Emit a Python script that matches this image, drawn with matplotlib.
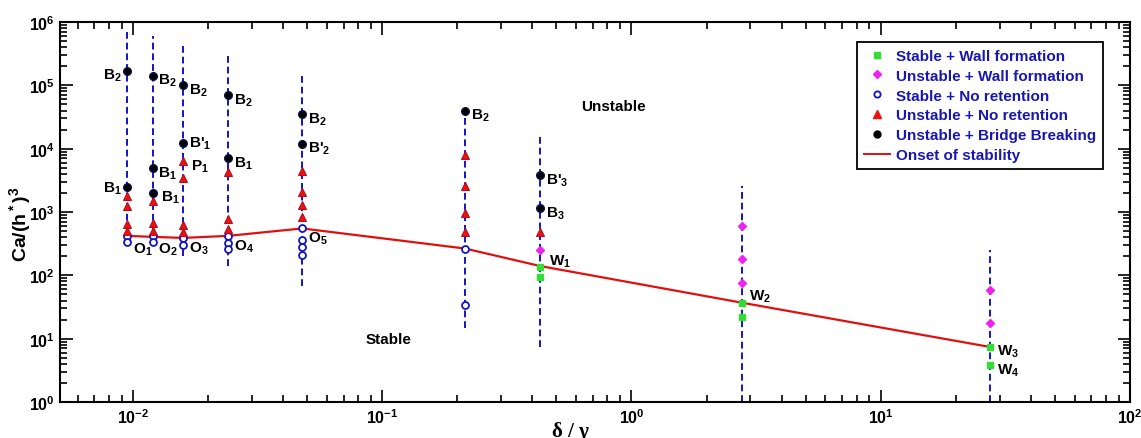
import matplotlib
matplotlib.use("Agg")
import matplotlib.pyplot as plt
from matplotlib.lines import Line2D

plt.rcParams['font.family'] = ['Liberation Sans', 'DejaVu Sans']
plt.rcParams['font.weight'] = 'bold'
plt.rcParams['mathtext.fontset'] = 'custom'
plt.rcParams['mathtext.rm'] = 'Liberation Sans:bold'
plt.rcParams['mathtext.it'] = 'Liberation Sans:bold'
plt.rcParams['mathtext.bf'] = 'Liberation Sans:bold'

# Data: column positions (delta / gamma)
cols = [0.0095, 0.012, 0.0159, 0.0241, 0.0478, 0.215, 0.431, 2.77, 27.4]

# vertical dashed guides (top, bottom) for each column
guide_top = [7.2e5, 6.0e5, 4.3e5, 2.9e5, 1.4e5, 4.0e4, 1.6e4, 2.6e3, 250]
guide_bot = [340, 330, 200, 140, 68, 15, 7.4, 1.0, 1.0]

# Unstable + Bridge Breaking
bridge_x = [0.0095, 0.0095, 0.012, 0.012, 0.012, 0.0159, 0.0159, 0.0241, 0.0241,
            0.0478, 0.0478, 0.215, 0.431, 0.431]
bridge_y = [1.7e5, 2.5e3, 1.4e5, 4.9e3, 2.0e3, 1.0e5, 1.23e4, 7.0e4, 7.0e3,
            3.5e4, 1.2e4, 4.0e4, 3.8e3, 1.15e3]

# Unstable + No retention
unret_x = [0.0095] * 4 + [0.012] * 3 + [0.0159] * 4 + [0.0241] * 3 + [0.0478] * 4 + [0.215] * 4 + [0.431]
unret_y = [1.8e3, 1.25e3, 650, 500,
           1.5e3, 670, 500,
           6.3e3, 3.5e3, 630, 490,
           4.3e3, 780, 540,
           4.5e3, 2.1e3, 1.3e3, 830,
           8.0e3, 2.6e3, 960, 490,
           480]

# Stable + No retention
sret_x = [0.0095] * 2 + [0.012] * 2 + [0.0159] * 2 + [0.0241] * 3 + [0.0478] * 4 + [0.215] * 2
sret_y = [420, 336, 420, 340, 390, 300, 420, 320, 260, 550, 360, 280, 210, 260, 34]

# Unstable + Wall formation
uwall_x = [0.431, 2.77, 2.77, 2.77, 27.4, 27.4]
uwall_y = [255, 600, 180, 76, 59, 18]

# Stable + Wall formation
swall_x = [0.431, 0.431, 2.77, 2.77, 27.4, 27.4]
swall_y = [137, 94, 37, 22, 7.4, 3.8]

# Onset of stability
onset_y = [420, 405, 390, 420, 550, 265, 140, 37, 7.4]

# point labels: x, y, text, offset (points)
labels = [
    (0.0095, 1.7e5, r"B$_2$", (-4, -3)),
    (0.0095, 2.5e3, r"B$_1$", (-4, -1)),
    (0.012, 1.4e5, r"B$_2$", (4, -3)),
    (0.012, 4.9e3, r"B$_1$", (4, -3)),
    (0.012, 2.0e3, r"B$_1$", (6, -3)),
    (0.0159, 1.0e5, r"B$_2$", (4, -3)),
    (0.0159, 1.23e4, r"B'$_1$", (4, 0)),
    (0.0159, 6.3e3, r"P$_1$", (6, -3)),
    (0.0241, 7.0e4, r"B$_2$", (4, -3)),
    (0.0241, 7.0e3, r"B$_1$", (4, -3)),
    (0.0478, 3.5e4, r"B$_2$", (4, -3)),
    (0.0478, 1.2e4, r"B'$_2$", (4, -3)),
    (0.215, 4.0e4, r"B$_2$", (4, -3)),
    (0.431, 3.8e3, r"B'$_3$", (4, -3)),
    (0.431, 1.15e3, r"B$_3$", (4, -3)),
    (0.431, 255, r"W$_1$", (6, -8)),
    (2.77, 37, r"W$_2$", (5, 5)),
    (27.4, 7.4, r"W$_3$", (5, -3)),
    (27.4, 3.8, r"W$_4$", (5, -3)),
    (0.0095, 336, r"O$_1$", (4, -5)),
    (0.012, 340, r"O$_2$", (4, -5)),
    (0.0159, 300, r"O$_3$", (4, -2)),
    (0.0241, 320, r"O$_4$", (4, -2)),
    (0.0478, 360, r"O$_5$", (4, 2)),
]

fig = plt.figure(figsize=(11.41, 4.39), dpi=100)
ax = fig.add_axes([0.0526, 0.082, 0.9378, 0.8656])

blue = '#1414c0'
for x, t, b in zip(cols, guide_top, guide_bot):
    ax.plot([x, x], [b, t], color=blue, ls=(0, (3.5, 2)), lw=1.4, zorder=1)

ax.plot(cols, onset_y, color='#e01010', lw=1.6, zorder=2)

ax.plot(sret_x, sret_y, 'o', ms=5, mfc='white', mec=blue, mew=1.3, ls='none', zorder=3)
ax.plot(unret_x, unret_y, '^', ms=6, mfc='#ee1111', mec='#b01020', mew=0.8, ls='none', zorder=4)
ax.plot(bridge_x, bridge_y, 'o', ms=5.5, mfc='black', mec='#101040', ls='none', zorder=4)
ax.plot(uwall_x, uwall_y, 'D', ms=4.2, mfc='#ee22ee', mec='#ee22ee', ls='none', zorder=4)
ax.plot(swall_x, swall_y, 's', ms=4.8, mfc='#33dd33', mec='#33dd33', ls='none', zorder=4)

for x, y, s, off in labels:
    ax.annotate(s, (x, y), xytext=off, textcoords='offset points', fontsize=11,
                fontweight='bold', ha='right' if off[0] < 0 else 'left', va='center')

ax.text(0.85, 4.7e4, 'Unstable', fontsize=11, fontweight='bold', ha='center', va='center')
ax.text(0.106, 10, 'Stable', fontsize=11, fontweight='bold', ha='center', va='center')

ax.set_xscale('log')
ax.set_yscale('log')
ax.set_xlim(5.1e-3, 100)
ax.set_ylim(1, 1e6)
ax.tick_params(which='both', direction='in', top=True, right=True, labelsize=11.5, width=1.2)
ax.tick_params(which='major', length=9)
ax.tick_params(which='minor', length=5)
for sp in ax.spines.values():
    sp.set_linewidth(1.5)

ax.set_ylabel(r"Ca/(h$^*$)$^3$", fontsize=14, fontweight='bold')
ax.yaxis.set_label_coords(-0.025, 0.47)
fig.text(0.5, 0.016, r"δ / γ", fontsize=15, family='Liberation Serif', ha='center', va='center')

handles = [
    Line2D([], [], marker='s', ls='none', ms=5, mfc='#33dd33', mec='#33dd33'),
    Line2D([], [], marker='D', ls='none', ms=4.5, mfc='#ee22ee', mec='#ee22ee'),
    Line2D([], [], marker='o', ls='none', ms=4.5, mfc='white', mec=blue, mew=1.3),
    Line2D([], [], marker='^', ls='none', ms=6, mfc='#ee1111', mec='#ee1111'),
    Line2D([], [], marker='o', ls='none', ms=5, mfc='black', mec='black'),
    Line2D([], [], color='#e01010', lw=1.4),
]
names = ['Stable + Wall formation', 'Unstable + Wall formation', 'Stable + No retention',
         'Unstable + No retention', 'Unstable + Bridge Breaking', 'Onset of stability']
leg = ax.legend(handles, names, loc='upper right', bbox_to_anchor=(0.975, 0.947),
                borderaxespad=0, fancybox=False, edgecolor='black', framealpha=1,
                labelcolor='#1818b0', prop={'weight': 'bold', 'size': 11},
                handlelength=1.7, handletextpad=0.4, labelspacing=0.38, borderpad=0.45)
leg.get_frame().set_linewidth(1.3)

fig.savefig('out.png', dpi=100)
